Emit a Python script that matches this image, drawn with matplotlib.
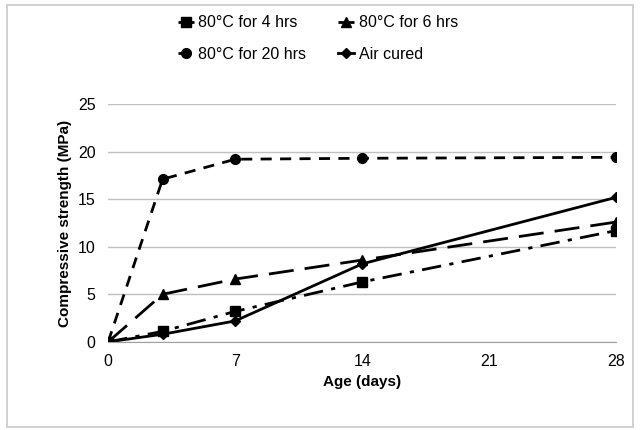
import matplotlib.pyplot as plt
from matplotlib.patches import Rectangle

plt.rcParams['font.family'] = ['Liberation Sans', 'DejaVu Sans']

age = [0, 3, 7, 14, 28]
hrs4 = [0, 1.1, 3.2, 6.3, 11.7]
hrs6 = [0, 5.0, 6.6, 8.6, 12.6]
hrs20 = [0, 17.1, 19.2, 19.3, 19.4]
air = [0, 0.8, 2.2, 8.2, 15.2]

fig = plt.figure(figsize=(6.4, 4.3), dpi=100)
ax = fig.add_axes([0.169, 0.205, 0.794, 0.553])

ax.plot(age, hrs4, color='black', lw=2, marker='s', ms=7, dashes=(7, 3, 1.5, 3), label='80°C for 4 hrs')
ax.plot(age, hrs6, color='black', lw=2, marker='^', ms=7, dashes=(9, 4), label='80°C for 6 hrs')
ax.plot(age, hrs20, color='black', lw=2, marker='o', ms=7, dashes=(4, 3), label='80°C for 20 hrs')
ax.plot(age, air, color='black', lw=2, marker='D', ms=5, label='Air cured')

ax.set_xlim(0, 28)
ax.set_ylim(0, 25)
ax.set_xticks([0, 7, 14, 21, 28])
ax.set_yticks([0, 5, 10, 15, 20, 25])
ax.yaxis.grid(True, color='#c0c0c0', lw=1)
ax.set_axisbelow(True)
for s in ['top', 'right', 'left']:
    ax.spines[s].set_visible(False)
ax.spines['bottom'].set_color('#a0a0a0')
ax.tick_params(length=0, labelsize=11.5, pad=9)
ax.set_xlabel('Age (days)', fontsize=11, fontweight='bold')
ax.set_ylabel('Compressive strength (MPa)', fontsize=11, fontweight='bold')

handles, labels = ax.get_legend_handles_labels()
order = [0, 2, 1, 3]
fig.legend([handles[i] for i in order], [labels[i] for i in order], ncol=2,
           loc='upper left', bbox_to_anchor=(0.255, 0.998), frameon=False,
           fontsize=11.5, handlelength=1.0, handletextpad=0.3, columnspacing=2.0,
           labelspacing=1.05)

fig.patches.append(Rectangle((0.011, 0.007), 0.978, 0.981, transform=fig.transFigure,
                             fill=False, edgecolor='#c8c8c8', lw=1.2))

fig.savefig('out.png', dpi=100)
